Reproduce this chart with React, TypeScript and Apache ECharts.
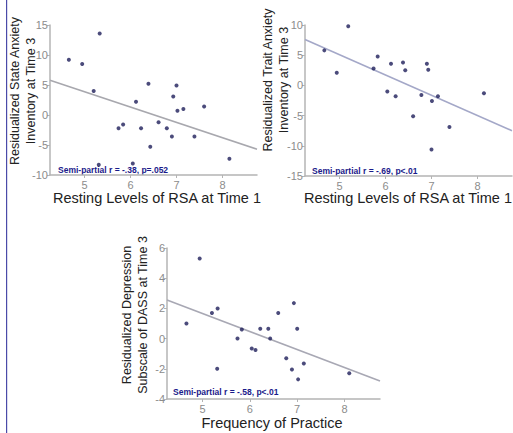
import React, { useEffect, useRef } from "react";
import * as echarts from "echarts";

// Panel 1: State anxiety vs RSA
const stateX = [4.66, 4.95, 5.33, 5.2, 5.31, 5.74, 5.84, 6.12, 6.23, 6.05, 6.39, 6.43, 6.61, 6.79, 6.9, 6.93, 7.0, 7.02, 7.15, 7.39, 7.6, 8.15];
const stateY = [9.2, 8.5, 13.6, 4.0, -8.3, -2.2, -1.6, 2.2, -2.2, -8.1, 5.2, -5.3, -1.2, -2.2, -3.6, 3.1, 4.9, 0.7, 1.0, -3.6, 1.4, -7.3];
const stateLineX = [4.25, 8.75];
const stateLineY = [5.8, -5.7];

// Panel 2: Trait anxiety vs RSA
const traitX = [4.67, 4.94, 5.19, 5.74, 5.83, 6.04, 6.12, 6.22, 6.38, 6.43, 6.6, 6.78, 6.9, 6.93, 7.01, 7.0, 7.14, 7.39, 8.14];
const traitY = [5.8, 2.1, 9.8, 2.8, 4.8, -1.0, 3.6, -1.8, 3.8, 2.5, -5.1, -1.6, 3.6, 2.6, -2.6, -10.6, -1.8, -6.9, -1.3];
const traitLineX = [4.25, 8.75];
const traitLineY = [7.6, -7.5];

// Panel 3: Depression vs Frequency of practice
const deprX = [4.66, 4.94, 5.2, 5.32, 5.31, 5.74, 5.83, 6.04, 6.12, 6.22, 6.39, 6.43, 6.6, 6.77, 6.89, 6.93, 7.0, 7.02, 7.14, 8.1];
const deprY = [1.0, 5.3, 1.7, 2.0, -2.0, 0.0, 0.6, -0.65, -0.75, 0.65, 0.65, 0.0, 1.7, -1.3, -2.05, 2.35, 0.65, -2.7, -1.65, -2.3];
const deprLineX = [4.25, 8.75];
const deprLineY = [2.55, -2.8];

const xTicks = [5, 6, 7, 8];

const xTitles = ["Resting Levels of RSA at Time 1", "Resting Levels of RSA at Time 1", "Frequency of Practice"];
const yTitles = [
  "Residualized State Anxiety\nInventory at Time 3",
  "Residualized Trait Anxiety\nInventory at Time 3",
  "Residualized Depression\nSubscale of DASS at Time 3",
];
const statLabels = ["Semi-partial r = -.38, p=.052", "Semi-partial r = -.69, p<.01", "Semi-partial r = -.58, p<.01"];

const FONT = "'Liberation Sans', Arial, sans-serif";

export default function App() {
  const ref = useRef<HTMLDivElement>(null);
  useEffect(() => {
    if (!ref.current) return;
    const chart = echarts.init(ref.current, null, { renderer: "svg" });
    const zip = (xs: number[], ys: number[]) => xs.map((x, i) => [x, ys[i]]);

    const axisLine = { show: true, onZero: false, lineStyle: { color: "#b4b4b4", width: 1.5 } };
    const mkX = (idx: number) => ({
      type: "value",
      gridIndex: idx,
      min: 4.25,
      max: 8.75,
      axisLine,
      axisTick: { show: true, length: 3, lineStyle: { color: "#b4b4b4" }, customValues: xTicks },
      axisLabel: { color: "#8c8c8c", fontSize: 11, fontFamily: FONT, margin: 4, customValues: xTicks },
      splitLine: { show: false },
    });
    const mkY = (idx: number, min: number, max: number, interval: number) => ({
      type: "value",
      gridIndex: idx,
      min,
      max,
      interval,
      axisLine,
      axisTick: { show: true, length: 3, lineStyle: { color: "#b4b4b4" } },
      axisLabel: { color: "#8c8c8c", fontSize: 11, fontFamily: FONT, margin: 2 },
      splitLine: { show: false },
    });

    const scatter = (idx: number, xs: number[], ys: number[]) => ({
      type: "scatter",
      xAxisIndex: idx,
      yAxisIndex: idx,
      data: zip(xs, ys),
      symbolSize: 4,
      itemStyle: { color: "#1e1e5a" },
      z: 3,
    });
    const line = (idx: number, xs: number[], ys: number[], color: string) => ({
      type: "line",
      xAxisIndex: idx,
      yAxisIndex: idx,
      data: zip(xs, ys),
      showSymbol: false,
      symbol: "none",
      lineStyle: { color, width: 1.6 },
      z: 2,
    });

    const ytitle = (x: number, y: number, text: string) => ({
      type: "text",
      x,
      y,
      rotation: Math.PI / 2,
      style: {
        text,
        fontSize: 12.5,
        fontFamily: FONT,
        fill: "#222",
        align: "center",
        verticalAlign: "middle",
        lineHeight: 16,
      },
    });
    const xtitle = (x: number, y: number, text: string) => ({
      type: "text",
      x,
      y,
      style: { text, fontSize: 14.5, fontFamily: FONT, fill: "#222", align: "center", verticalAlign: "middle" },
    });
    const stat = (x: number, y: number, text: string) => ({
      type: "text",
      x,
      y,
      style: { text, fontSize: 8.5, fontWeight: "bold", fontFamily: FONT, fill: "#1a1a8a", align: "left", verticalAlign: "middle" },
    });

    chart.setOption({
      animation: false,
      backgroundColor: "#ffffff",
      grid: [
        { left: 50, width: 207, top: 25, height: 150 },
        { left: 305, width: 207, top: 25, height: 151 },
        { left: 167, width: 213, top: 248, height: 151 },
      ],
      xAxis: [mkX(0), mkX(1), mkX(2)],
      yAxis: [mkY(0, -10, 15, 5), mkY(1, -15, 10, 5), mkY(2, -4, 6, 2)],
      series: [
        line(0, stateLineX, stateLineY, "#a8a8ae"),
        scatter(0, stateX, stateY),
        line(1, traitLineX, traitLineY, "#a4a8c8"),
        scatter(1, traitX, traitY),
        line(2, deprLineX, deprLineY, "#a8a8b4"),
        scatter(2, deprX, deprY),
      ],
      graphic: [
        { type: "rect", shape: { x: 6, y: 0, width: 1.2, height: 433 }, style: { fill: "#4a4aa8" } },
        ytitle(23, 91, yTitles[0]),
        ytitle(276, 80, yTitles[1]),
        ytitle(135, 315, yTitles[2]),
        xtitle(157, 198, xTitles[0]),
        xtitle(408, 198, xTitles[1]),
        xtitle(272, 423, xTitles[2]),
        stat(58, 170, statLabels[0]),
        stat(312, 171, statLabels[1]),
        stat(173, 392, statLabels[2]),
      ],
    });
    return () => chart.dispose();
  }, []);
  return <div ref={ref} style={{ position: "fixed", left: 0, top: 0, width: 513, height: 433 }} />;
}
